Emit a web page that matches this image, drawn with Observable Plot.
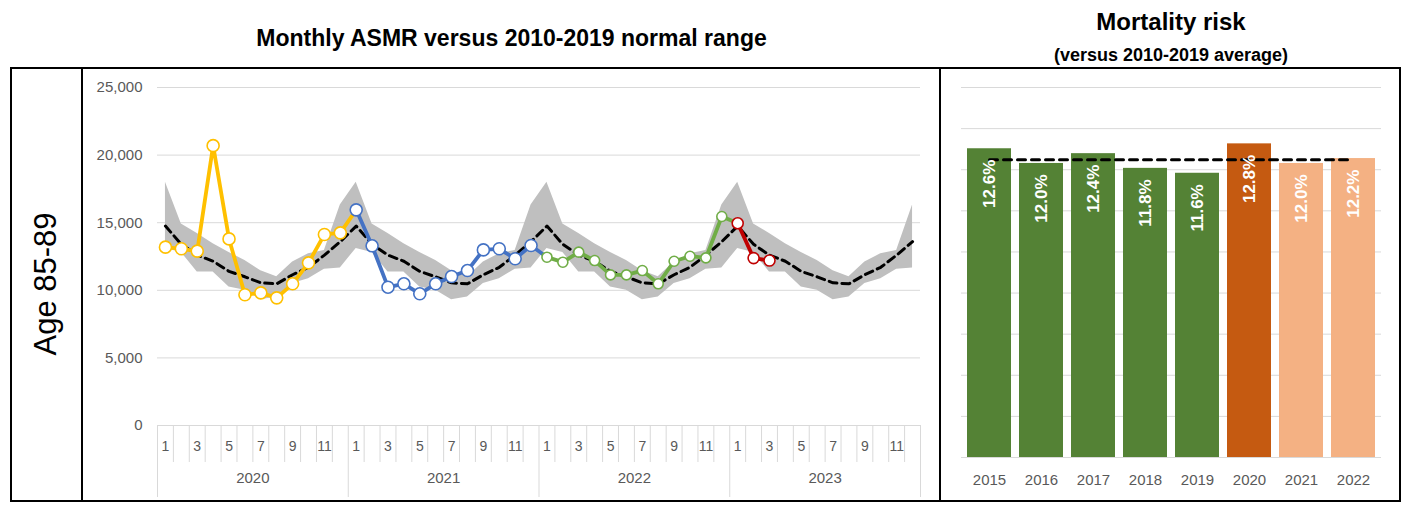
<!DOCTYPE html>
<html>
<head>
<meta charset="utf-8">
<script src="https://cdn.jsdelivr.net/npm/d3@7"></script>
<script src="https://cdn.jsdelivr.net/npm/@observablehq/plot@0.6"></script>
<style>
  html, body { margin: 0; padding: 0; background: #fff; }
  body { width: 1407px; height: 510px; position: relative; overflow: hidden; font-family: "Liberation Sans", Arial, sans-serif; }
  .abs { position: absolute; }
  .title { font-weight: bold; text-align: center; color: #000; white-space: nowrap; }
  #box { left: 10px; top: 67px; width: 1391px; height: 435px; border: 2px solid #000; box-sizing: border-box; }
  .vline { top: 67px; width: 2px; height: 435px; background: #000; }
  #age { left: 46px; top: 284px; transform: translate(-50%, -50%) rotate(-90deg); font-size: 31px; white-space: nowrap; color: #000; }
</style>
</head>
<body>
<div id="box" class="abs"></div>
<div class="abs vline" style="left:81px"></div>
<div class="abs vline" style="left:939px"></div>
<div class="abs title" style="left:83px; width:857px; top:25px; font-size:23px; line-height:26px;">Monthly ASMR versus 2010-2019 normal range</div>
<div class="abs title" style="left:941px; width:460px; top:8px; font-size:24px; line-height:28px;">Mortality risk</div>
<div class="abs title" style="left:941px; width:460px; top:44px; font-size:18px; line-height:22px;">(versus 2010-2019 average)</div>
<div id="age" class="abs">Age 85-89</div>
<div id="left" class="abs" style="left:83px; top:69px;"></div>
<div id="right" class="abs" style="left:942px; top:69px;"></div>
<script>
// ---------- Data ----------
const years = [2020, 2021, 2022, 2023];
const months = [1, 2, 3, 4, 5, 6, 7, 8, 9, 10, 11, 12];
const yTicks = [0, 5000, 10000, 15000, 20000, 25000];

// 2010-2019 normal range (per calendar month)
const normalUpper = [18000, 14900, 14200, 13450, 12800, 12200, 11450, 11000, 12100, 12700, 12950, 16300];
const normalLower = [13100, 12800, 11350, 11350, 10250, 10000, 9300, 9500, 10500, 10850, 11550, 11650];
const normalMean  = [14750, 13400, 12600, 12150, 11400, 11000, 10550, 10480, 11150, 11700, 12600, 13600];

// Monthly ASMR
const asmr2020 = [13190, 13070, 12900, 20700, 13800, 9670, 9810, 9440, 10480, 12030, 14130, 14250];
const asmr2021 = [15950, 13290, 10230, 10480, 9740, 10480, 11020, 11460, 12990, 13070, 12330, 13310];
const asmr2022 = [12450, 12080, 12820, 12200, 11140, 11140, 11460, 10480, 12150, 12520, 12400, 15460];
const asmr2023 = [14960, 12380, 12200];

// Mortality risk bars
const barYears = ["2015", "2016", "2017", "2018", "2019", "2020", "2021", "2022"];
const riskValues = [12.6, 12.0, 12.4, 11.8, 11.6, 12.8, 12.0, 12.2];
const riskAverage = 12.15;
const riskAxisMax = 15.1;

// ---------- Styles ----------
const seriesColors = ["#FFC000", "#4472C4", "#70AD47", "#C00000"];
const seriesRadius = [6, 6, 5, 5.5];
const barPalette = ["#548235", "#548235", "#548235", "#548235", "#548235", "#C55A11", "#F4B183", "#F4B183"];
const FONT = "'Liberation Sans', Arial, sans-serif";
const GRID = "#d9d9d9";
const TICK = "#595959";

// ---------- Left chart ----------
const monthRows = years.flatMap((y, yi) => months.map(m => ({
  i: yi * 12 + m - 1, year: y, month: m,
  lo: normalLower[m - 1], hi: normalUpper[m - 1], mean: normalMean[m - 1]
})));

const asmrAll = [asmr2020, asmr2021, asmr2022, asmr2023];
const seriesPoints = asmrAll.map((arr, yi) => arr.map((v, k) => ({i: yi * 12 + k, v, s: yi})));
// each year's line runs on to the next January
const seriesLines = asmrAll.map((arr, yi) => {
  const pts = seriesPoints[yi].slice();
  if (yi + 1 < asmrAll.length) pts.push({i: (yi + 1) * 12, v: asmrAll[yi + 1][0], s: yi});
  return pts;
});

const monthBounds = d3.range(monthRows.length + 1).map(k => k - 0.5).filter(b => ((b + 0.5) % 12) !== 0);
const yearBounds = years.map((y, yi) => yi * 12 - 0.5).concat([years.length * 12 - 0.5]);
const oddMonthRows = monthRows.filter(r => r.month % 2 === 1);
const yearRows = years.map((y, yi) => ({year: String(y), mid: yi * 12 + 5.5}));

const H = 432, MT = 18, MB = 76;
const frameH = H - MT - MB;

const left = Plot.plot({
  width: 856, height: H,
  marginLeft: 74, marginRight: 19, marginTop: MT, marginBottom: MB,
  style: {fontFamily: FONT, background: "transparent", overflow: "visible"},
  x: {domain: [-0.5, monthRows.length - 0.5], axis: null},
  y: {domain: [0, 25000], axis: null},
  marks: [
    Plot.gridY(yTicks, {stroke: GRID, strokeOpacity: 1, strokeWidth: 1}),
    Plot.axisY(yTicks, {tickSize: 0, tickPadding: 15, tickFormat: d3.format(","), fontSize: 15, fill: TICK, label: null}),
    Plot.areaY(monthRows, {x: "i", y1: "lo", y2: "hi", fill: "#bfbfbf"}),
    Plot.lineY(monthRows, {x: "i", y: "mean", stroke: "#000", strokeWidth: 3, strokeDasharray: "8,5"}),
    ...seriesLines.map((pts, s) => Plot.lineY(pts, {x: "i", y: "v", stroke: seriesColors[s], strokeWidth: 3.8, strokeLinejoin: "round"})),
    ...seriesPoints.map((pts, s) => Plot.dot(pts, {x: "i", y: "v", r: seriesRadius[s], fill: "#fff", stroke: seriesColors[s], strokeWidth: 1.6})),
    Plot.ruleX(monthBounds, {x: d => d, stroke: GRID, strokeWidth: 1, insetTop: frameH, insetBottom: -37}),
    Plot.ruleX(yearBounds, {x: d => d, stroke: GRID, strokeWidth: 1, insetTop: frameH, insetBottom: -72}),
    Plot.text(oddMonthRows, {x: "i", text: d => String(d.month), frameAnchor: "bottom", dy: 25, fontSize: 14, fill: TICK}),
    Plot.text(yearRows, {x: "mid", text: "year", frameAnchor: "bottom", dy: 57, fontSize: 15, fill: TICK})
  ]
});
document.getElementById("left").appendChild(left);

// ---------- Right chart ----------
const barRows = barYears.map((y, k) => ({year: y, risk: riskValues[k]}));
const gridTicks = d3.range(10).map(k => k * riskAxisMax / 9);

const right = Plot.plot({
  width: 458, height: H,
  marginLeft: 19, marginRight: 19, marginTop: MT, marginBottom: 44,
  style: {fontFamily: FONT, background: "transparent", overflow: "visible"},
  x: {domain: barYears, paddingInner: 0.16, paddingOuter: 0.08, axis: null},
  y: {domain: [0, riskAxisMax], axis: null},
  color: {domain: barYears, range: barPalette},
  marks: [
    Plot.gridY(gridTicks, {stroke: GRID, strokeOpacity: 1, strokeWidth: 1}),
    Plot.barY(barRows, {x: "year", y: "risk", fill: "year"}),
    Plot.lineY(barRows, {x: "year", y: () => riskAverage, stroke: "#000", strokeWidth: 3, strokeDasharray: "8,6"}),
    Plot.text(barRows, {x: "year", y: "risk", text: d => d.risk.toFixed(1) + "%", rotate: -90, textAnchor: "end", dy: 11, fill: "#fff", fontWeight: "bold", fontSize: 17}),
    Plot.axisX({tickSize: 0, tickPadding: 17, fontSize: 15, fill: TICK, label: null})
  ]
});
document.getElementById("right").appendChild(right);
</script>
</body>
</html>
